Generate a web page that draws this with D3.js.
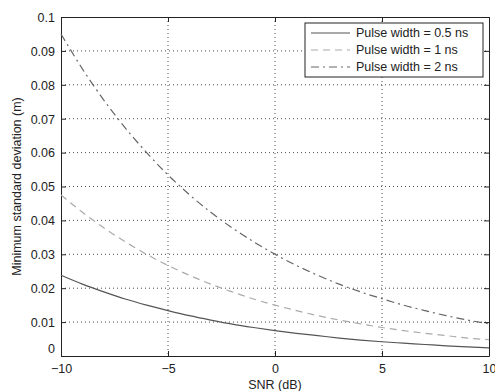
<!DOCTYPE html>
<html><head><meta charset="utf-8">
<script src="https://cdn.jsdelivr.net/npm/d3@7"></script>
<style>body{margin:0;background:#fff}svg{display:block}text{font-family:"Liberation Sans",Arial,sans-serif}</style>
</head><body>
<svg id="c" width="495" height="391"></svg>
<script>
const snr = [-10,-9,-8,-7,-6,-5,-4,-3,-2,-1,0,1,2,3,4,5,6,7,8,9,10];
const pw05 = [0.0238,0.0212,0.0189,0.0168,0.015,0.0134,0.0119,0.0106,0.0094,0.0084,0.0075,0.0067,0.006,0.0053,0.0047,0.0042,0.0038,0.0034,0.003,0.0027,0.0024];
const pw1 = [0.0475,0.0424,0.0378,0.0337,0.03,0.0267,0.0238,0.0212,0.0189,0.0168,0.015,0.0134,0.0119,0.0106,0.0095,0.0084,0.0075,0.0067,0.006,0.0053,0.0048];
const pw2 = [0.095,0.0847,0.0755,0.0673,0.06,0.0534,0.0476,0.0424,0.0378,0.0337,0.030,0.0267,0.0238,0.0212,0.0189,0.0169,0.015,0.0134,0.0119,0.0106,0.0095];
const xTicks = [-10,-5,0,5,10];
const yTicks = [0,0.01,0.02,0.03,0.04,0.05,0.06,0.07,0.08,0.09,0.1];
const seriesNames = ["Pulse width = 0.5 ns","Pulse width = 1 ns","Pulse width = 2 ns"];

const svg = d3.select("#c");
const L=61, R=489, T=17, B=356;
const x = d3.scaleLinear().domain([-10,10]).range([L,R]);
const y = d3.scaleLinear().domain([0,0.1]).range([B,T]);

// grid
const g = svg.append("g");
g.selectAll(".gx").data(xTicks.slice(1,-1)).join("line")
 .attr("x1",d=>x(d)).attr("x2",d=>x(d)).attr("y1",T).attr("y2",B)
 .attr("stroke","#000").attr("stroke-width",1).attr("stroke-dasharray","1,3").attr("opacity",0.7);
g.selectAll(".gy").data(yTicks.slice(1,-1)).join("line")
 .attr("x1",L).attr("x2",R).attr("y1",d=>y(d)).attr("y2",d=>y(d))
 .attr("stroke","#000").attr("stroke-width",1).attr("stroke-dasharray","1,3").attr("opacity",0.7);

// axes
const xa = svg.append("g").attr("transform",`translate(0,${B})`)
 .call(d3.axisBottom(x).tickValues(xTicks).tickSizeInner(-5).tickSizeOuter(0).tickPadding(6).tickFormat(d=>d<0?"\u2212"+Math.abs(d):d));
const ya = svg.append("g").attr("transform",`translate(${L},0)`)
 .call(d3.axisLeft(y).tickValues(yTicks).tickSizeInner(-5).tickSizeOuter(0).tickPadding(6).tickFormat(d=>d===0?"0":d3.format(".2~f")(d)));
svg.append("g").attr("transform",`translate(0,${T})`)
 .call(d3.axisTop(x).tickValues(xTicks).tickSizeInner(-5).tickSizeOuter(0).tickFormat(""));
svg.append("g").attr("transform",`translate(${R},0)`)
 .call(d3.axisRight(y).tickValues(yTicks).tickSizeInner(-5).tickSizeOuter(0).tickFormat(""));
svg.selectAll(".domain").attr("stroke","#222");
svg.selectAll(".tick line").attr("stroke","#222");
svg.selectAll(".tick text").attr("font-size",12.5).attr("fill","#222");
ya.selectAll(".tick text").attr("dy","0.35em");
ya.selectAll(".tick").filter(d=>d===0).select("text").attr("dy","-0.25em");
xa.selectAll(".tick text").attr("dy","0.85em");

// lines
const styles = [
 {data:pw05,color:"#555",dash:null},
 {data:pw1,color:"#aaa",dash:"7,5"},
 {data:pw2,color:"#666",dash:"8,4,2,4"}
];
const line = d3.line().x((d,i)=>x(snr[i])).y(d=>y(d)).curve(d3.curveMonotoneX);
styles.forEach(s=>{
 svg.append("path").datum(s.data).attr("d",line).attr("fill","none")
  .attr("stroke",s.color).attr("stroke-width",1.2).attr("stroke-dasharray",s.dash);
});

// legend
const lg = svg.append("g");
lg.append("rect").attr("x",305).attr("y",23).attr("width",178).attr("height",54)
 .attr("fill","#fff").attr("stroke","#222");
styles.forEach((s,i)=>{
 const yy = 33+i*17;
 lg.append("line").attr("x1",311).attr("x2",350).attr("y1",yy).attr("y2",yy)
  .attr("stroke",s.color).attr("stroke-width",1.2).attr("stroke-dasharray",s.dash);
 lg.append("text").attr("x",356).attr("y",yy).attr("dy","0.35em").attr("font-size",12.5).attr("fill","#222").text(seriesNames[i]);
});

// labels
svg.append("text").attr("x",(L+R)/2).attr("y",389).attr("text-anchor","middle").attr("font-size",12.5).attr("fill","#222").text("SNR (dB)");
svg.append("text").attr("transform",`translate(17,${(T+B)/2}) rotate(-90)`).attr("text-anchor","middle").attr("dy","0.35em").attr("font-size",12.5).attr("fill","#222").text("Minimum standard deviation (m)");
</script>
</body></html>
